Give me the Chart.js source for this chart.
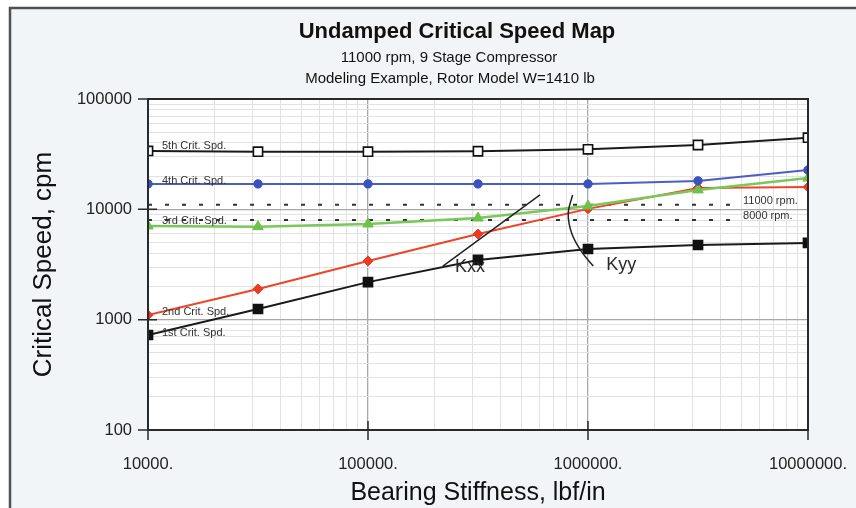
<!DOCTYPE html>
<html>
<head>
<meta charset="utf-8">
<title>Undamped Critical Speed Map</title>
<script src="https://cdn.jsdelivr.net/npm/chart.js@4.4.1/dist/chart.umd.min.js"></script>
<style>
  html, body { margin: 0; padding: 0; background: #ffffff; }
  #wrap { width: 856px; height: 508px; position: relative; }
</style>
</head>
<body>
<div id="wrap"><canvas id="chart" width="856" height="508"></canvas></div>
<script>
// Bearing stiffness sweep (lbf/in) and the resulting critical speeds (cpm)
const stiffness = [10000, 31623, 100000, 316228, 1000000, 3162278, 10000000];
const crit1 = [726, 1250, 2190, 3480, 4370, 4750, 4960];
const crit2 = [1100, 1900, 3400, 5970, 10100, 15600, 15900];
const crit3 = [7060, 6970, 7360, 8340, 10700, 15000, 19200];
const crit4 = [17000, 17000, 17000, 17000, 17000, 18100, 22700];
const crit5 = [33800, 33300, 33300, 33600, 35000, 38300, 44600];
const critNames = ['1st Crit. Spd.', '2nd Crit. Spd.', '3rd Crit. Spd.', '4th Crit. Spd.', '5th Crit. Spd.'];

// Operating speed reference lines
const runSpeeds = [11000, 8000];
const runSpeedLabels = ['11000 rpm.', '8000 rpm.'];
const runLineStiffness = [10000, 4660000];

// Bearing stiffness curves (Kxx, Kyy) sketched over the map
const kxxStiffness = [219000, 605000];
const kxxSpeed = [3060, 13500];
const kyyStiffness = [851000, 813000, 843000, 935000, 1057000];
const kyySpeed = [13500, 9200, 6070, 4130, 3060];

// Decade ticks that carry labels
const xTickValues = [10000, 100000, 1000000, 10000000];
const yTickValues = [100, 1000, 10000, 100000];

const FONT = "'Liberation Sans', Arial, Helvetica, sans-serif";

function toPoints(xs, ys) { return xs.map((x, i) => ({ x: x, y: ys[i] })); }

// 1..9 x 10^n gridline positions between the decade ticks
function logGridTicks(decades) {
  const out = [];
  for (let i = 0; i < decades.length - 1; i++) {
    for (let m = 1; m <= 9; m++) out.push({ value: m * decades[i] });
  }
  out.push({ value: decades[decades.length - 1] });
  return out;
}
function isDecade(v) {
  const l = Math.log10(v);
  return Math.abs(l - Math.round(l)) < 1e-9;
}

const critStyles = [
  { color: '#1a1a1a', style: 'rect', radius: 6.5, fill: '#111111', bw: 1.5 },
  { color: '#ee4427', style: 'rectRot', radius: 5, fill: '#ee3a22', bw: 1 },
  { color: '#79c85a', style: 'triangle', radius: 6, fill: '#6cc24a', bw: 1 },
  { color: '#4a5ec4', style: 'circle', radius: 4.2, fill: '#3a52c0', bw: 1 },
  { color: '#1a1a1a', style: 'rect', radius: 6.5, fill: '#ffffff', bw: 1.6 }
];
const critSeries = [crit1, crit2, crit3, crit4, crit5];
const critWidths = [2, 2, 2.5, 2, 2];

const datasets = [];
runSpeeds.forEach((s, i) => {
  datasets.push({
    label: runSpeedLabels[i],
    data: toPoints(runLineStiffness, [s, s]),
    borderColor: '#333333',
    borderWidth: 2,
    borderDash: [4, 13],
    pointRadius: 0,
    fill: false,
    order: 10
  });
});
critSeries.forEach((vals, i) => {
  const st = critStyles[i];
  datasets.push({
    label: critNames[i],
    data: toPoints(stiffness, vals),
    borderColor: st.color,
    borderWidth: critWidths[i],
    pointStyle: st.style,
    pointRadius: st.radius,
    pointBackgroundColor: st.fill,
    pointBorderColor: st.style === 'rect' ? '#111111' : st.fill,
    pointBorderWidth: st.bw,
    tension: 0,
    fill: false,
    order: 5 - i
  });
});
datasets.push({
  label: 'Kxx',
  data: toPoints(kxxStiffness, kxxSpeed),
  borderColor: '#222222',
  borderWidth: 1.5,
  pointRadius: 0,
  fill: false,
  order: 0
});
datasets.push({
  label: 'Kyy',
  data: toPoints(kyyStiffness, kyySpeed),
  borderColor: '#222222',
  borderWidth: 1.5,
  pointRadius: 0,
  tension: 0.4,
  fill: false,
  order: 0
});

// Page background, frame and white plotting area
const backdrop = {
  id: 'backdrop',
  beforeDraw(chart) {
    const { ctx, chartArea: a } = chart;
    ctx.save();
    ctx.fillStyle = '#ffffff';
    ctx.fillRect(0, 0, chart.width, chart.height);
    ctx.fillStyle = '#f2f5f7';
    ctx.fillRect(10, 8, chart.width - 10, chart.height - 8);
    ctx.strokeStyle = '#505050';
    ctx.lineWidth = 2.5;
    ctx.beginPath();
    ctx.moveTo(10, chart.height);
    ctx.lineTo(10, 8);
    ctx.lineTo(chart.width, 8);
    ctx.stroke();
    ctx.fillStyle = '#ffffff';
    ctx.fillRect(a.left, a.top, a.right - a.left, a.bottom - a.top);
    ctx.restore();
  }
};

// Titles, plot border, decade tick crosses and in-plot annotations
const annotate = {
  id: 'annotate',
  afterDraw(chart) {
    const { ctx, chartArea: a } = chart;
    const xs = chart.scales.x, ys = chart.scales.y;
    ctx.save();

    ctx.fillStyle = '#111111';
    ctx.textAlign = 'center';
    ctx.textBaseline = 'middle';
    ctx.font = 'bold 22px ' + FONT;
    ctx.fillText('Undamped Critical Speed Map', 457, 32);
    ctx.font = '15px ' + FONT;
    ctx.fillText('11000 rpm, 9 Stage Compressor', 449, 58);
    ctx.fillText('Modeling Example, Rotor Model W=1410 lb', 450, 79);

    ctx.strokeStyle = '#2a2a2a';
    ctx.lineWidth = 2;
    ctx.strokeRect(a.left, a.top, a.right - a.left, a.bottom - a.top);

    ctx.lineWidth = 1.5;
    ctx.beginPath();
    yTickValues.forEach(v => {
      const y = ys.getPixelForValue(v);
      ctx.moveTo(a.left - 10, y); ctx.lineTo(a.left + 9, y);
    });
    xTickValues.forEach(v => {
      const x = xs.getPixelForValue(v);
      ctx.moveTo(x, a.bottom - 9); ctx.lineTo(x, a.bottom + 10);
    });
    ctx.stroke();

    // series names along the left edge
    ctx.textAlign = 'left';
    ctx.textBaseline = 'alphabetic';
    ctx.font = '11px ' + FONT;
    ctx.fillStyle = '#333333';
    const nameDy = [1, 0, -2, 0, -2];
    critSeries.forEach((vals, i) => {
      const y = ys.getPixelForValue(vals[0]) + nameDy[i];
      ctx.fillText(critNames[i], a.left + 14, y);
    });

    // operating speed labels at the end of the dotted lines
    ctx.font = '11px ' + FONT;
    ctx.textBaseline = 'middle';
    runSpeeds.forEach((s, i) => {
      const x = xs.getPixelForValue(runLineStiffness[1]) + 8;
      const y = ys.getPixelForValue(s);
      ctx.fillText(runSpeedLabels[i], x, y - 4);
    });

    // stiffness curve labels
    ctx.font = '18px ' + FONT;
    ctx.fillStyle = '#2a2a2a';
    ctx.fillText('Kxx', xs.getPixelForValue(kxxStiffness[0]) + 12, ys.getPixelForValue(kxxSpeed[0]) + 1);
    ctx.fillText('Kyy', xs.getPixelForValue(kyyStiffness[4]) + 13, ys.getPixelForValue(kyySpeed[4]) - 1);

    ctx.restore();
  }
};

new Chart(document.getElementById('chart'), {
  type: 'line',
  data: { datasets: datasets },
  options: {
    responsive: false,
    animation: false,
    layout: { padding: { top: 99, left: 0, right: 48, bottom: 0 } },
    plugins: {
      legend: { display: false },
      tooltip: { enabled: false },
      title: { display: false }
    },
    elements: { line: { borderCapStyle: 'butt' } },
    scales: {
      x: {
        type: 'logarithmic',
        min: 10000,
        max: 10000000,
        afterBuildTicks(scale) { scale.ticks = logGridTicks(xTickValues); },
        afterFit(scale) {
          scale.height = 78;
          scale.paddingLeft = 0;
          scale.paddingRight = 0;
        },
        ticks: {
          autoSkip: false,
          maxRotation: 0,
          padding: 25,
          color: '#222222',
          font: { family: FONT, size: 16.5 },
          callback(v) { return isDecade(v) ? String(v) + '.' : ''; }
        },
        grid: {
          drawTicks: false,
          color(ctx) { return isDecade(ctx.tick.value) ? '#a8a8a8' : '#e2e2e2'; },
          lineWidth(ctx) { return isDecade(ctx.tick.value) ? 1.3 : 1; }
        },
        border: { display: false },
        title: {
          display: true,
          text: 'Bearing Stiffness, lbf/in',
          color: '#111111',
          font: { family: FONT, size: 25 },
          padding: { top: 0, bottom: 0 }
        }
      },
      y: {
        type: 'logarithmic',
        min: 100,
        max: 100000,
        afterBuildTicks(scale) { scale.ticks = logGridTicks(yTickValues); },
        afterFit(scale) {
          scale.width = 148;
          scale.paddingTop = 0;
          scale.paddingBottom = 0;
        },
        ticks: {
          autoSkip: false,
          padding: 16,
          color: '#222222',
          font: { family: FONT, size: 16.5 },
          callback(v) { return isDecade(v) ? String(v) : ''; }
        },
        grid: {
          drawTicks: false,
          color(ctx) { return isDecade(ctx.tick.value) ? '#a8a8a8' : '#e2e2e2'; },
          lineWidth(ctx) { return isDecade(ctx.tick.value) ? 1.3 : 1; }
        },
        border: { display: false },
        title: {
          display: true,
          text: 'Critical Speed, cpm',
          color: '#111111',
          font: { family: FONT, size: 26 },
          padding: { top: 28, bottom: 0 }
        }
      }
    }
  },
  plugins: [backdrop, annotate]
});
</script>
</body>
</html>
